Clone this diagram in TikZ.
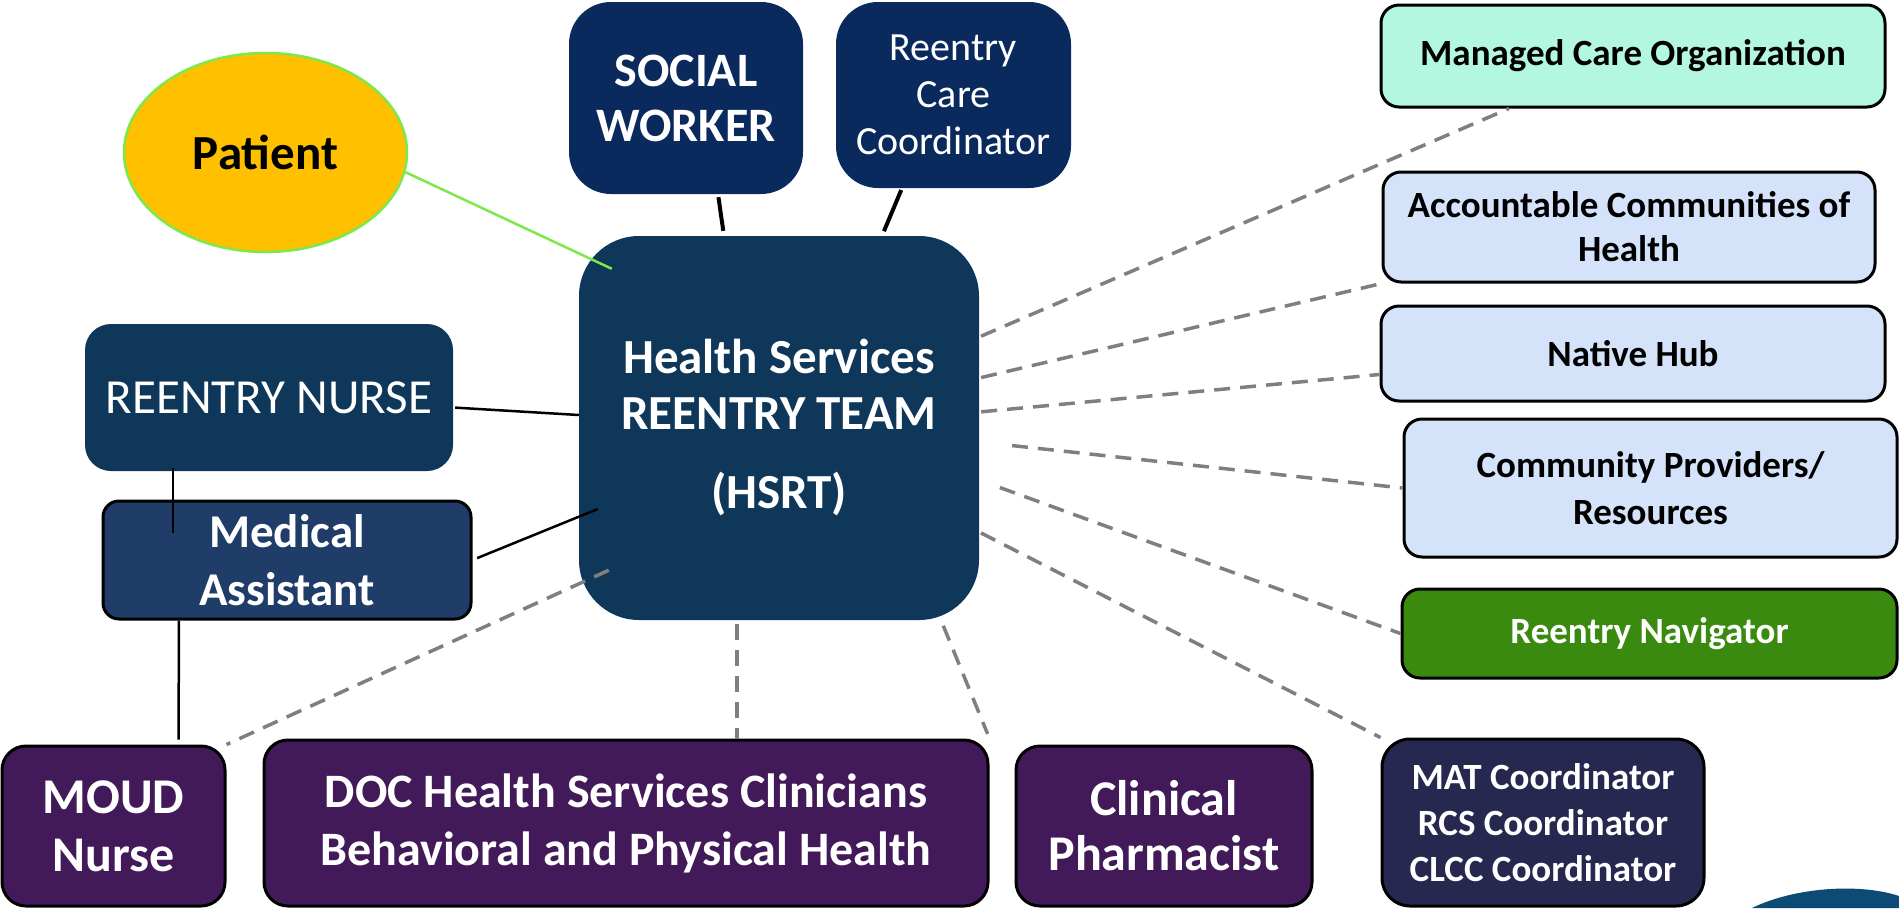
\documentclass[tikz,border=0pt]{standalone}
\usepackage{xcolor}
\usepackage{fontspec}
\setmainfont{Carlito}
\usepackage{tikz}
\usetikzlibrary{calc, positioning, shapes.geometric}

\definecolor{swblue}{HTML}{0A2A5E}
\definecolor{teamblue}{HTML}{0E3759}
\definecolor{mablue}{HTML}{1F3D68}
\definecolor{docpurple}{HTML}{421A59}
\definecolor{matnavy}{HTML}{262850}
\definecolor{mcomint}{HTML}{B3F7E1}
\definecolor{partnerblue}{HTML}{D5E3FA}
\definecolor{navgreen}{HTML}{3A8A10}
\definecolor{patientgold}{HTML}{FFC000}
\definecolor{patientgreen}{HTML}{7DE84A}
\definecolor{linkgray}{HTML}{7F7F7F}
\definecolor{logoblue}{HTML}{0D4A74}

\newcommand{\fsz}[2]{\fontsize{#1}{#2}\selectfont}

\tikzset{
  staffbox/.style={rectangle, rounded corners=#1, inner sep=0pt, align=center, text=white},
  staffbox/.default=40pt,
  rolebox/.style={rectangle, rounded corners=24pt, draw=black, line width=3pt, fill=docpurple,
    inner sep=0pt, align=center, text=white, font=\fsz{50}{58}\bfseries},
  partner/.style={rectangle, rounded corners=18pt, draw=black, line width=3pt, fill=partnerblue,
    inner sep=0pt, align=center, text=black, font=\fsz{37}{44}\bfseries},
  tie/.style={draw=black, line width=2.5pt},
  dashlink/.style={draw=linkgray, line width=3.5pt, dash pattern=on 16pt off 10pt}
}

\begin{document}
\begin{tikzpicture}[x=1pt, y=-1pt]
      \useasboundingbox (0,0) rectangle (1899,908);

      %nodes
      \node[ellipse, fill=patientgold, draw=patientgreen, line width=2.5pt, inner sep=0pt,
        minimum width=283pt, minimum height=199pt, font=\fsz{49}{56}\bfseries] (patient) at (265.5,152.5) {Patient};
      \node[staffbox=42pt, fill=swblue, minimum width=234pt, minimum height=192pt,
        font=\fsz{48}{55}\bfseries] (social) at (686,98) {SOCIAL\\WORKER};
      \node[staffbox=42pt, fill=swblue, minimum width=235pt, minimum height=186pt,
        font=\fsz{40}{47}] (rcc) at (953.5,95) {Reentry\\Care\\Coordinator};
      \node[staffbox=60pt, fill=teamblue, minimum width=400pt, minimum height=384pt,
        font=\fsz{49}{56}\bfseries] (hsrt) at (779,428) {Health Services\\REENTRY TEAM\\[23pt](HSRT)};
      \node[staffbox=26pt, fill=teamblue, minimum width=368pt, minimum height=147pt,
        font=\fsz{49}{55}] (nurse) at (269,397.5) {REENTRY NURSE};
      \node[staffbox=16pt, draw=black, line width=3pt, fill=mablue, minimum width=368pt, minimum height=118pt,
        font=\fsz{47}{58}\bfseries] (medasst) at (287,560) {Medical\\Assistant};

      \node[rolebox, minimum width=223pt, minimum height=160pt] (moud) at (113.5,826) {MOUD\\Nurse};
      \node[rolebox, minimum width=724pt, minimum height=166pt, font=\fsz{48}{58}\bfseries] (doc) at (626,823)
        {DOC Health Services Clinicians\\Behavioral and Physical Health};
      \node[rolebox, minimum width=296pt, minimum height=160pt, font=\fsz{50}{55}\bfseries] (pharm) at (1164,826)
        {Clinical\\Pharmacist};
      \node[rolebox, rounded corners=28pt, fill=matnavy, minimum width=322pt, minimum height=167pt,
        font=\fsz{37}{46}\bfseries] (mat) at (1543,822.5) {MAT Coordinator\\RCS Coordinator\\CLCC Coordinator};

      \node[partner, fill=mcomint, minimum width=504pt, minimum height=102pt] (mco) at (1633,56) {Managed Care Organization};
      \node[partner, minimum width=492pt, minimum height=110pt] (ach) at (1629,227) {Accountable Communities of\\Health};
      \node[partner, minimum width=504pt, minimum height=95pt] (nhub) at (1633,353.5) {Native Hub};
      \node[partner, minimum width=493pt, minimum height=138pt, font=\fsz{37}{47}\bfseries] (cprov) at (1650.5,488)
        {Community Providers/\\Resources};
      \node[partner, fill=navgreen, text=white, minimum width=495pt, minimum height=89pt] (rnav) at (1649.5,633.5)
        {Reentry Navigator};

      % edges %
      \draw[draw=patientgreen, line width=2.5pt] (patient.-8) -- ([xshift=33pt, yshift=-33pt]hsrt.north west);
      \draw[tie, line width=4pt, shorten <=3pt, shorten >=5pt] ([xshift=32pt]social.south) -- ([xshift=-55pt]hsrt.north);
      \draw[tie, line width=4pt, shorten <=2pt, shorten >=5pt] ([xshift=-51.5pt]rcc.south) -- ([xshift=103pt]hsrt.north);
      \draw[tie, shorten <=2pt] ([yshift=-10pt]nurse.east) -- ([yshift=13pt]hsrt.west);
      \draw[tie, shorten <=-3pt] ([xshift=-96pt]nurse.south) -- ([xshift=-114pt, yshift=-33pt]medasst.north);
      \draw[tie, shorten <=5pt] (medasst.east) -- ([xshift=19pt, yshift=-81pt]hsrt.west);
      \draw[tie, shorten >=5pt] ([xshift=-108pt]medasst.south) -- ([xshift=65pt]moud.north);

      \draw[dashlink] ([xshift=30pt, yshift=50pt]hsrt.south west) -- (moud.north east);
      \draw[dashlink, shorten <=4pt] ([xshift=-42pt]hsrt.south) -- ([xshift=111pt]doc.north);
      \draw[dashlink, shorten <=6pt, shorten >=5pt] ([xshift=162pt]hsrt.south) -- (doc.north east);

      \draw[dashlink, shorten <=2pt] ([yshift=91pt]hsrt.east) -- ([xshift=-124pt]mco.south);
      \draw[dashlink, shorten <=2pt] ([yshift=50pt]hsrt.east) -- (ach.south west);
      \draw[dashlink, shorten <=2pt] ([yshift=16pt]hsrt.east) -- ([yshift=-21pt]nhub.west);
      \draw[dashlink, shorten <=33pt] ([yshift=-14pt]hsrt.east) -- (cprov.west);
      \draw[dashlink, shorten <=22pt] ([yshift=-52pt]hsrt.east) -- (rnav.west);
      \draw[dashlink, shorten <=2pt] ([yshift=-104pt]hsrt.east) -- (mat.north west);

      % logo edge
      \fill[logoblue] (1752,908) .. controls (1795,887) and (1860,883) .. (1899,896) -- (1899,908) -- cycle;
\end{tikzpicture}
\end{document}
